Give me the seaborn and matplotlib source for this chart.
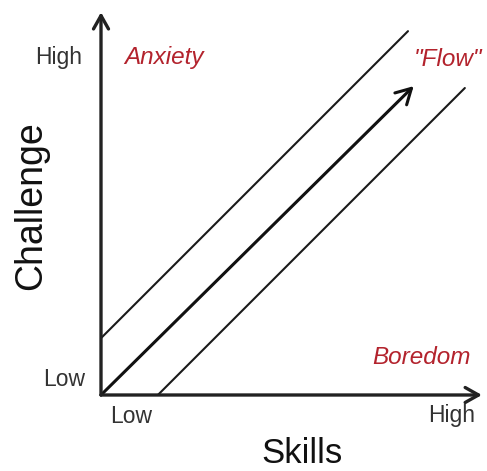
import numpy as np
import pandas as pd
import matplotlib
matplotlib.use("Agg")
import matplotlib.pyplot as plt
import seaborn as sns

# Flow channel: two boundary lines and the central flow arrow (skills vs challenge)
line_names = ["anxiety_edge", "anxiety_edge", "boredom_edge", "boredom_edge"]
line_skills = [0.0, 8.1, 1.5, 9.6]
line_challenge = [1.5, 9.6, 0.0, 8.1]

flow_start = (0.0, 0.0)
flow_end = (8.25, 8.15)

axis_max_x = 10.05
axis_max_y = 10.1

tick_labels = ["Low", "High"]
zone_labels = ["Anxiety", "\"Flow\"", "Boredom"]

RED = "#b3232d"
GREY = "#333333"

sns.set_theme(style="white")
plt.rcParams["font.family"] = ["Liberation Sans", "DejaVu Sans"]

fig = plt.figure(figsize=(4.87, 4.71), dpi=100)
ax = fig.add_axes([0, 0, 1, 1])
scale = 37.9
ax.set_xlim(-101 / scale, (487 - 101) / scale)
ax.set_ylim(-(471 - 395) / scale, 395 / scale)
ax.set_axis_off()

df = pd.DataFrame({"skills": line_skills, "challenge": line_challenge, "line": line_names})
sns.lineplot(data=df, x="skills", y="challenge", units="line", estimator=None,
             color="#1a1a1a", linewidth=1.5, ax=ax, legend=False)

# central flow arrow
ax.annotate("", xy=flow_end, xytext=flow_start,
            arrowprops=dict(arrowstyle="->,head_length=0.9,head_width=0.5",
                            color="#111111", lw=2.2, shrinkA=0, shrinkB=0))

# axes arrows
for end in [(axis_max_x, 0), (0, axis_max_y)]:
    ax.annotate("", xy=end, xytext=(0, 0),
                arrowprops=dict(arrowstyle="->,head_length=0.8,head_width=0.45",
                                color="#222222", lw=2.4, shrinkA=0, shrinkB=0))

# tick labels
ax.text(-0.5, 8.9, tick_labels[1], ha="right", va="center", fontsize=16.5, color=GREY)
ax.text(-0.42, 0.4, tick_labels[0], ha="right", va="center", fontsize=16.5, color=GREY)
ax.text(0.23, -0.58, tick_labels[0], ha="left", va="center", fontsize=16.5, color=GREY)
ax.text(9.88, -0.53, tick_labels[1], ha="right", va="center", fontsize=16.5, color=GREY)

# axis titles
ax.text(5.3, -1.8, "Skills", ha="center", va="baseline", fontsize=25, color="#111111")
ax.text(-1.85, 5.0, "Challenge", ha="center", va="center", fontsize=27,
        rotation=90, color="#111111")

# zone labels
ax.text(0.6, 8.9, zone_labels[0], ha="left", va="center", fontsize=17.5,
        style="italic", color=RED)
ax.text(10.05, 8.85, zone_labels[1], ha="right", va="center", fontsize=17.5,
        style="italic", color=RED)
ax.text(9.75, 1.0, zone_labels[2], ha="right", va="center", fontsize=17.5,
        style="italic", color=RED)

fig.savefig("out.png", dpi=100)
